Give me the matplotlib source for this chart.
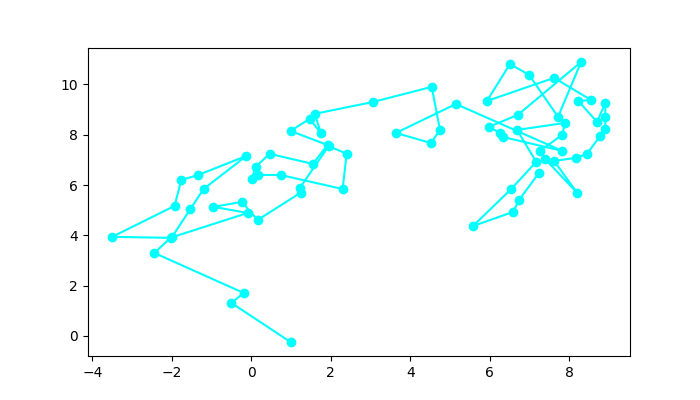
import matplotlib
matplotlib.use("Agg")
import matplotlib.pyplot as plt

# Path of points (in drawing order)
x_left = [0.99, -0.50, -0.19, -2.44, -2.03, -3.50, -1.93, -1.76, -1.33, -0.12,
          -1.20, -1.53, -2.00, -0.09, -0.95, -0.24, 0.16, 1.24, 1.22, 1.95,
          2.40, 2.30, 0.74, 0.18, 0.01, 0.11, 0.46, 1.55, 1.92, 0.99,
          1.47, 1.75, 1.60]
y_left = [-0.24, 1.31, 1.71, 3.30, 3.90, 3.94, 5.17, 6.20, 6.40, 7.16,
          5.84, 5.05, 3.92, 4.89, 5.13, 5.33, 4.61, 5.69, 5.88, 7.55,
          7.24, 5.84, 6.40, 6.40, 6.24, 6.72, 7.24, 6.84, 7.59, 8.15,
          8.63, 8.07, 8.83]

x_mid = [3.06, 4.54, 4.75, 4.52, 3.64]
y_mid = [9.30, 9.90, 8.19, 7.67, 8.07]

x_right = [5.15, 7.82, 6.33, 6.26, 5.98, 6.71, 8.30, 7.72, 6.99, 6.51,
           5.93, 7.62, 8.55, 8.23, 8.70, 8.91, 8.91, 8.91, 8.78, 8.45,
           8.18, 7.62, 8.20, 7.39, 7.27, 7.82, 7.90, 6.69, 7.17, 6.54,
           5.58, 6.59, 6.74, 7.24]
y_right = [9.22, 7.36, 7.91, 8.07, 8.31, 8.79, 10.89, 8.71, 10.38, 10.81,
           9.34, 10.26, 9.38, 9.34, 8.51, 9.26, 8.71, 8.23, 7.95, 7.24,
           7.08, 6.96, 5.69, 7.04, 7.36, 7.99, 8.47, 8.19, 6.92, 5.84,
           4.37, 4.93, 5.41, 6.48]

xs = x_left + x_mid + x_right
ys = y_left + y_mid + y_right

fig, ax = plt.subplots(figsize=(7, 4), dpi=100)
ax.plot(xs, ys, color="cyan", marker="o")
fig.savefig("out.png", dpi=100)
